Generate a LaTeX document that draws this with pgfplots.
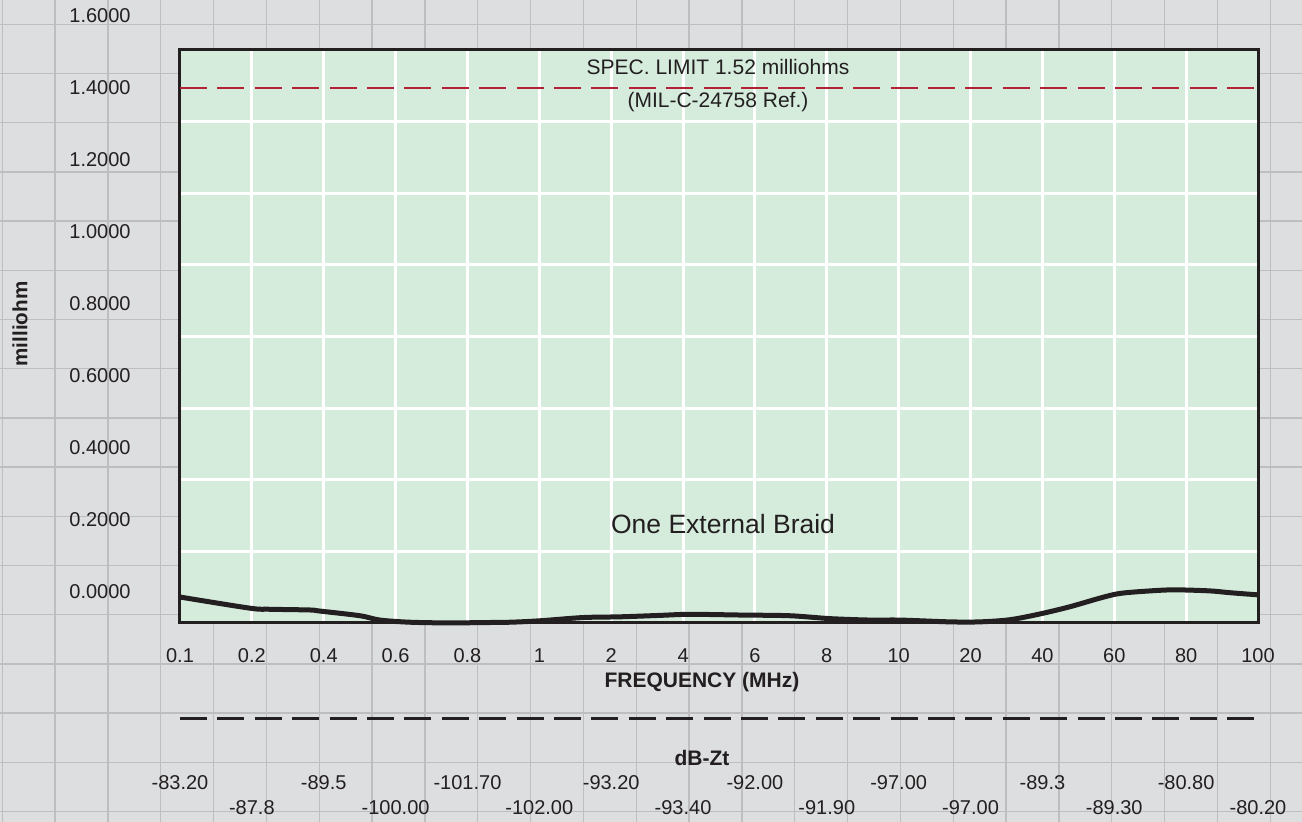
\documentclass[border=0pt]{standalone}
\usepackage{fontspec}
\setmainfont{Liberation Sans}
\usepackage{pgfplots}
\pgfplotsset{compat=1.18}
\definecolor{bggray}{HTML}{DDDEE0}
\definecolor{gridgray}{HTML}{BEBEC1}
\definecolor{plotgreen}{HTML}{D5ECDD}
\definecolor{inkblack}{HTML}{231F20}
\definecolor{speccolor}{HTML}{B22234}
\begin{document}
\begin{tikzpicture}[
  dbl/.style={font=\fontsize{10}{12}\selectfont, text=inkblack},
  bl/.style={font=\bfseries\fontsize{10.5}{12}\selectfont, text=inkblack}]
\fill[bggray] (0pt,0pt) rectangle (651pt,411pt);
\useasboundingbox (0pt,0pt) rectangle (651pt,411pt);
\foreach \i in {0,...,24} \draw[gridgray, line width=0.7pt] ({(2.3+52.83*\i)*0.5pt},0pt) -- ++(0pt,411pt);
\foreach \j in {0,...,16} \draw[gridgray, line width=0.7pt] (0pt,{(822-(24.3+49.2*\j))*0.5pt}) -- ++(651pt,0pt);

\begin{axis}[
  at={(90pt,99.5pt)}, anchor=south west,
  width=539pt, height=286.5pt, scale only axis,
  xmin=0, xmax=15, ymin=-0.08611, ymax=1.50556,
  axis background/.style={fill=plotgreen},
  axis line style={draw=inkblack, line width=1.5pt},
  xtick={0,...,15},
  xticklabels={0.1,0.2,0.4,0.6,0.8,1,2,4,6,8,10,20,40,60,80,100},
  xticklabel style={anchor=center, yshift=-16.5pt, font=\fontsize{10}{12}\selectfont, text=inkblack},
  ytick={0.11285,0.31181,0.51076,0.70972,0.90868,1.10764,1.30660},
  yticklabels={},
  major tick length=0pt,
  grid=major,
  major grid style={white, line width=1.5pt},
  clip=false,
  /pgf/number format/assume math mode=true,
]
\addplot[speccolor, line width=1.4pt, dash pattern=on 13.5pt off 5.2pt] coordinates {(0,1.4) (15,1.4)};
\addplot[inkblack, line width=2.5pt, smooth] coordinates {
(0,-0.014) (0.974,-0.045) (1.252,-0.048) (1.809,-0.050) (1.948,-0.053)
(2.505,-0.066) (2.783,-0.078) (3.200,-0.084) (3.757,-0.086) (4.174,-0.085)
(4.592,-0.084) (5.009,-0.080) (5.607,-0.071) (6.122,-0.069) (6.679,-0.065)
(7.096,-0.062) (7.792,-0.064) (8.487,-0.066) (9.044,-0.074) (9.601,-0.078)
(10.018,-0.078) (10.714,-0.083) (11.131,-0.083) (11.549,-0.077) (11.966,-0.061)
(12.383,-0.041) (12.801,-0.017) (13.079,-0.004) (13.497,0.003) (13.845,0.006)
(14.332,0.003) (14.610,-0.002) (15,-0.008)};
\addplot[inkblack, line width=1.5pt, dash pattern=on 13.5pt off 5.2pt] coordinates {(0,-0.35278) (15,-0.35278)};
\node[font=\fontsize{10.5}{12}\selectfont, text=inkblack] at (axis cs:7.486,1.4575) {SPEC. LIMIT 1.52 milliohms};
\node[font=\fontsize{10.5}{12}\selectfont, text=inkblack] at (axis cs:7.486,1.3619) {(MIL-C-24758 Ref.)};
\node[font=\fontsize{13.25}{15}\selectfont, text=inkblack] at (axis cs:7.556,0.18889) {One External Braid};
\node[bl] at (axis cs:7.263,-0.25) {FREQUENCY (MHz)};
\node[bl] at (axis cs:7.263,-0.4611) {dB-Zt};
\node[rotate=90, font=\bfseries\fontsize{10.3}{12}\selectfont, text=inkblack] at (axis cs:-2.226,0.7444) {milliohm};
\node[dbl] at (axis cs:0,-0.53056) {-83.20};
\node[dbl] at (axis cs:1,-0.6) {-87.8};
\node[dbl] at (axis cs:2,-0.53056) {-89.5};
\node[dbl] at (axis cs:3,-0.6) {-100.00};
\node[dbl] at (axis cs:4,-0.53056) {-101.70};
\node[dbl] at (axis cs:5,-0.6) {-102.00};
\node[dbl] at (axis cs:6,-0.53056) {-93.20};
\node[dbl] at (axis cs:7,-0.6) {-93.40};
\node[dbl] at (axis cs:8,-0.53056) {-92.00};
\node[dbl] at (axis cs:9,-0.6) {-91.90};
\node[dbl] at (axis cs:10,-0.53056) {-97.00};
\node[dbl] at (axis cs:11,-0.6) {-97.00};
\node[dbl] at (axis cs:12,-0.53056) {-89.3};
\node[dbl] at (axis cs:13,-0.6) {-89.30};
\node[dbl] at (axis cs:14,-0.53056) {-80.80};
\node[dbl] at (axis cs:15,-0.6) {-80.20};
\end{axis}

\begin{axis}[
  at={(90pt,99.5pt)}, anchor=south west,
  width=539pt, height=312.5pt, scale only axis,
  xmin=0, xmax=15, ymin=-0.08611, ymax=1.65,
  axis line style={draw=none},
  xtick=\empty,
  ytick={0,0.2,0.4,0.6,0.8,1.0,1.2,1.4,1.6},
  yticklabel style={anchor=east, inner sep=0pt, xshift=-24.5pt, font=\fontsize{10}{12}\selectfont, text=inkblack,
    /pgf/number format/.cd, fixed, fixed zerofill, precision=4},
  major tick length=0pt,
  tick style={draw=none},
  /pgf/number format/assume math mode=true,
]
\end{axis}
\end{tikzpicture}
\end{document}
